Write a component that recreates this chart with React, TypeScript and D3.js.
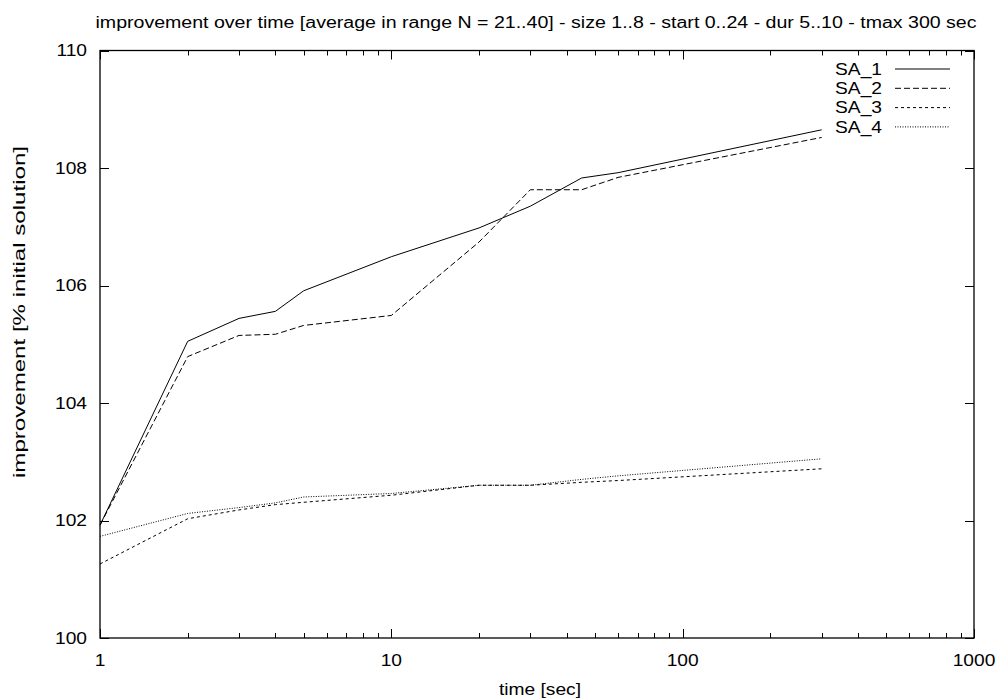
import React, { useEffect, useRef } from 'react';
import * as d3 from 'd3';

// sample times (sec) and averaged improvement per algorithm
const times = [1, 2, 3, 4, 5, 10, 20, 30, 45, 60, 300];
const sa1 = [101.92, 105.05, 105.44, 105.56, 105.91, 106.49, 106.98, 107.35, 107.83, 107.92, 108.65];
const sa2 = [101.92, 104.79, 105.15, 105.17, 105.32, 105.49, 106.74, 107.63, 107.63, 107.84, 108.52];
const sa3 = [101.26, 102.03, 102.18, 102.27, 102.31, 102.43, 102.60, 102.60, 102.65, 102.68, 102.88];
const sa4 = [101.73, 102.12, 102.22, 102.30, 102.40, 102.46, 102.60, 102.60, 102.70, 102.76, 103.05];
const seriesNames = ['SA_1', 'SA_2', 'SA_3', 'SA_4'];
const dashes = ['none', '6,3', '3,3', '1,1.5'];
const yTicks = [100, 102, 104, 106, 108, 110];
const xTicks = [1, 10, 100, 1000];

const title = 'improvement over time [average in range N = 21..40] - size 1..8 - start 0..24 - dur 5..10 - tmax 300 sec';

const App = () => {
  const ref = useRef<SVGSVGElement | null>(null);
  const width = 1003, height = 700;
  const left = 100, right = 974, top = 50.5, bottom = 638;

  useEffect(() => {
    const svg = d3.select(ref.current);
    svg.selectAll('*').remove();
    const font = '"Liberation Sans", Arial, sans-serif';
    const sx = 1.2; // the gnuplot text is a bit wider than Liberation Sans

    // helper: horizontally stretched text
    const label = (px: number, py: number, txt: string, anchor: string) =>
      svg.append('text')
        .attr('transform', `translate(${px},${py}) scale(${sx},1)`)
        .attr('dy', '0.35em')
        .attr('text-anchor', anchor)
        .attr('font-family', font).attr('font-size', 16)
        .text(txt);

    const x = d3.scaleLog().domain([1, 1000]).range([left, right]);
    const y = d3.scaleLinear().domain([100, 110]).range([bottom, top]);

    // minor + major ticks, drawn inward on all four sides
    const minor: number[] = [];
    for (let d = 1; d < 1000; d *= 10) {
      for (let k = 2; k <= 9; k++) minor.push(d * k);
    }
    const g = svg.append('g').attr('stroke', '#000').attr('stroke-width', 1);
    minor.forEach(v => {
      const px = Math.round(x(v)) + 0.5;
      g.append('line').attr('x1', px).attr('x2', px).attr('y1', bottom).attr('y2', bottom - 5);
      g.append('line').attr('x1', px).attr('x2', px).attr('y1', top).attr('y2', top + 5);
    });
    xTicks.forEach(v => {
      const px = Math.round(x(v)) + 0.5;
      g.append('line').attr('x1', px).attr('x2', px).attr('y1', bottom).attr('y2', bottom - 9);
      g.append('line').attr('x1', px).attr('x2', px).attr('y1', top).attr('y2', top + 9);
    });
    yTicks.forEach(v => {
      const py = Math.round(y(v)) + 0.5;
      g.append('line').attr('x1', left).attr('x2', left + 9).attr('y1', py).attr('y2', py);
      g.append('line').attr('x1', right).attr('x2', right - 9).attr('y1', py).attr('y2', py);
    });

    // frame
    svg.append('rect')
      .attr('x', left).attr('y', top)
      .attr('width', right - left).attr('height', bottom - top)
      .attr('fill', 'none').attr('stroke', '#000').attr('stroke-width', 1.3);

    // tick labels
    yTicks.forEach(v => label(left - 13, y(v), String(v), 'end'));
    xTicks.forEach(v => label(x(v), bottom + 22, String(v), 'middle'));

    // titles
    svg.append('text').attr('x', 536).attr('y', 22).attr('dy', '0.35em')
      .attr('text-anchor', 'middle').attr('font-family', font).attr('font-size', 16)
      .attr('textLength', 881).attr('lengthAdjust', 'spacingAndGlyphs')
      .text(title);
    label(540, 689, 'time [sec]', 'middle');
    svg.append('text').attr('transform', 'translate(19,312) rotate(-90)').attr('dy', '0.35em')
      .attr('text-anchor', 'middle').attr('font-family', font).attr('font-size', 16)
      .attr('textLength', 332).attr('lengthAdjust', 'spacingAndGlyphs')
      .text('improvement [% initial solution]');

    // lines
    const line = d3.line<number>()
      .x((_, i) => x(times[i]))
      .y(d => y(d));
    [sa1, sa2, sa3, sa4].forEach((s, i) => {
      svg.append('path').datum(s)
        .attr('d', line)
        .attr('fill', 'none').attr('stroke', '#000').attr('stroke-width', 1)
        .attr('stroke-dasharray', dashes[i]);
    });

    // legend
    seriesNames.forEach((name, i) => {
      const ly = 69 + i * 19.3;
      label(882, ly, name, 'end');
      svg.append('line').attr('x1', 895).attr('x2', 950).attr('y1', ly).attr('y2', ly)
        .attr('stroke', '#000').attr('stroke-width', 1).attr('stroke-dasharray', dashes[i]);
    });
  }, []);

  return (
    <svg ref={ref} width={width} height={height}
      style={{ position: 'absolute', left: 0, top: 0, background: '#fff' }} />
  );
};

export default App;
